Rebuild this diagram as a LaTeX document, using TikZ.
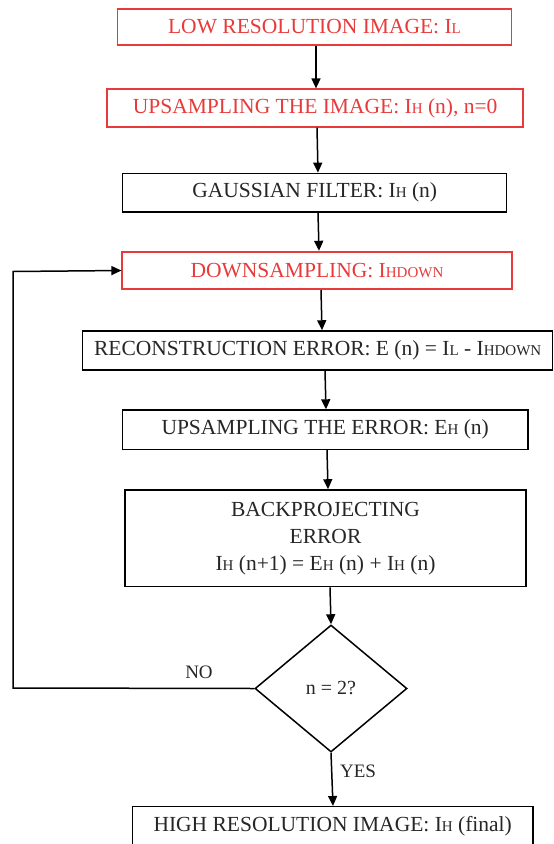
\documentclass[tikz,border=0pt]{standalone}
\usepackage{fontspec}
\setmainfont{Liberation Serif}
\usetikzlibrary{arrows.meta,shapes.geometric}
\definecolor{fcred}{RGB}{232,58,58}
\newcommand\sbs[1]{{\fontsize{15}{15}\selectfont #1}}
\tikzset{
  box/.style={draw=black, line width=1.5pt, rectangle, inner sep=0pt, align=center,
    font=\fontsize{21.5}{27}\selectfont, text=black!85},
  redbox/.style={box, draw=fcred, line width=1.8pt, text=fcred},
  arr/.style={line width=1.5pt, -{Triangle[length=10pt,width=9pt]}},
  lbl/.style={font=\fontsize{19}{22}\selectfont, text=black!85, inner sep=0pt},
}
\begin{document}
\begin{tikzpicture}[x=1pt,y=-1pt]
\useasboundingbox (0,0) rectangle (554,844);
\node[redbox, minimum width=394pt, minimum height=36.6pt] (b1) at (314.5,27) {LOW RESOLUTION IMAGE: I\sbs{L}};
\node[redbox, minimum width=415.7pt, minimum height=37.4pt] (b2) at (315.2,108) {UPSAMPLING THE IMAGE: I\sbs{H} (n), n=0};
\node[box, minimum width=384pt, minimum height=38.7pt] (b3) at (314.7,192.7) {GAUSSIAN FILTER: I\sbs{H} (n)};
\node[redbox, minimum width=389.4pt, minimum height=37.6pt] (b4) at (317,270.5) {DOWNSAMPLING: I\sbs{HDOWN}};
\node[box, minimum width=470pt, minimum height=39pt] (b5) at (317.7,350.5) {RECONSTRUCTION ERROR: E (n) = I\sbs{L} - I\sbs{HDOWN}};
\node[box, minimum width=405.7pt, minimum height=39.3pt] (b6) at (325.2,429.7) {UPSAMPLING THE ERROR: E\sbs{H} (n)};
\node[box, minimum width=401pt, minimum height=96.7pt] (b7) at (325.5,538.3) {BACKPROJECTING\\ERROR\\I\sbs{H} (n+1) = E\sbs{H} (n) + I\sbs{H} (n)};
\node[box, diamond, minimum width=152pt, minimum height=127pt, font=\fontsize{20}{24}\selectfont] (d) at (331,688.5) {n = 2?};
\node[box, minimum width=400.7pt, minimum height=40pt] (b8) at (332.7,826.7) {HIGH RESOLUTION IMAGE: I\sbs{H} (final)};
\coordinate (c1) at (13,688);
\coordinate (c2) at (13,271.5);
\draw[arr] (b1.south -| 316,0) -- (b2.north -| 316,0);
\draw[arr] (b2.south -| 317,0) -- (b3.north -| 318,0);
\draw[arr] (b3.south -| 318,0) -- (b4.north -| 319,0);
\draw[arr] (b4.south -| 321,0) -- (b5.north -| 322,0);
\draw[arr] (b5.south -| 325,0) -- (b6.north -| 326,0);
\draw[arr] (b6.south -| 327,0) -- (b7.north -| 328,0);
\draw[arr] (b7.south -| 330,0) -- (d.north);
\draw[arr] (d.south) -- (b8.north -| 333,0);
\draw[arr] (d.west) -- (c1) -- (c2) -- (b4.west);
\node[lbl] (no) at (199,672) {NO};
\node[lbl] (yes) at (358,771) {YES};
\end{tikzpicture}
\end{document}
